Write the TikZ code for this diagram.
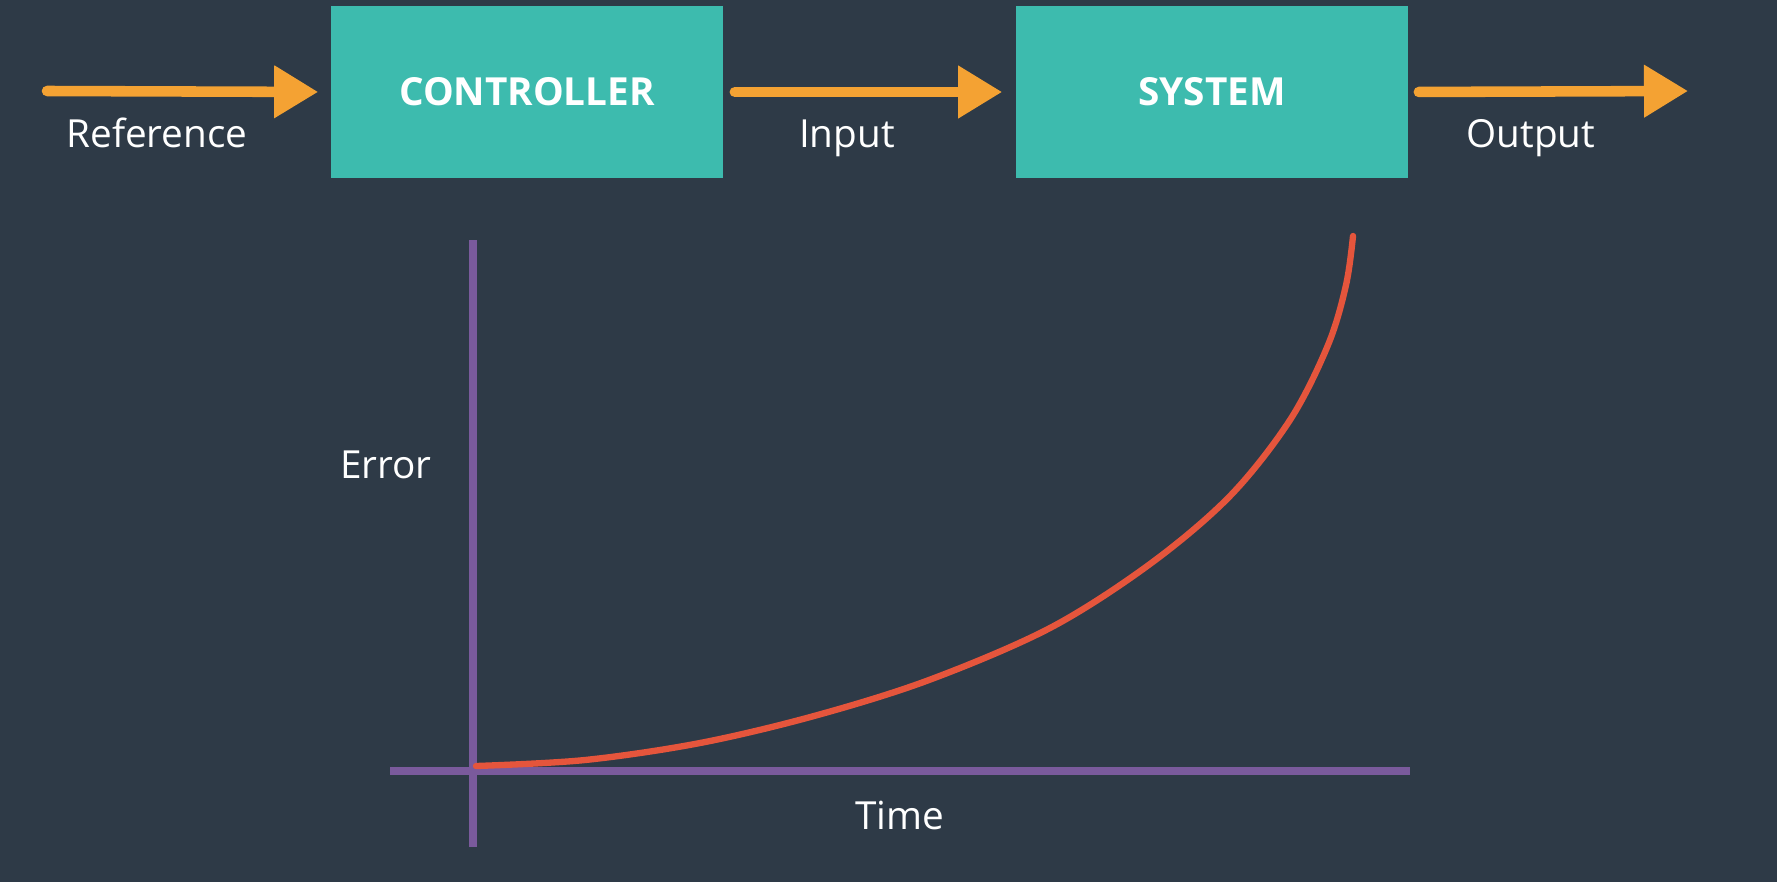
\documentclass[tikz,border=0pt]{standalone}
\usepackage{fontspec}
\setmainfont{Open Sans}
\usetikzlibrary{arrows.meta}
\definecolor{mybg}{HTML}{2E3A47}
\definecolor{myteal}{HTML}{3DBBAE}
\definecolor{myorange}{HTML}{F4A233}
\definecolor{mypurple}{HTML}{7A5A9C}
\definecolor{myred}{HTML}{E5553C}

\begin{document}
\begin{tikzpicture}[x=0.01cm,y=-0.01cm,
    block/.style={fill=myteal,minimum width=3.92cm,minimum height=1.72cm,inner sep=0pt,
      text=white,font=\bfseries\fontsize{11}{13}\selectfont},
    lbl/.style={text=white,anchor=base,inner sep=0pt,font=\fontsize{11}{13}\selectfont},
    flow/.style={myorange,line width=3pt,line cap=round,
      -{Triangle[length=0.44cm,width=0.5cm]}}]
        \coordinate (RefStart) at (47,91);
    \coordinate (OutEnd)   at (1688,91);
    \coordinate (Origin)   at (473,771);
    \coordinate (XAxisMin) at (390,771);
    \coordinate (XAxisMax) at (1410,771);
    \coordinate (YAxisMin) at (473,847);
    \coordinate (YAxisMax) at (473,240);

    \fill[mybg] (0,0) rectangle (1777,882);% background
    \useasboundingbox (0,0) rectangle (1777,882);

    \node[block] (ctrl) at (527,92) {CONTROLLER};
    \node[block] (sys) at (1212,92) {SYSTEM};

    \draw[flow,shorten >=0.12cm] (RefStart) -- (ctrl.west);% reference in
    \draw[flow,shorten <=0.11cm,shorten >=0.13cm] (ctrl.east) -- (sys.west);% input
    \draw[flow,shorten <=0.1cm] (sys.east) -- (OutEnd);% output

    \node[lbl] (reflbl) at (157,147) {Reference};
    \node[lbl] (inlbl) at (847,147) {Input};
    \node[lbl] (outlbl) at (1531,147) {Output};

    \draw[mypurple,line width=2pt] (YAxisMin) -- (YAxisMax);% Draw y axis
    \draw[mypurple,line width=2pt] (XAxisMin) -- (XAxisMax);% Draw x axis
    \node[lbl] (errlbl) at (386,478) {Error};
    \node[lbl] (timelbl) at (900,829) {Time};

    \draw[myred,line width=1.8pt,line cap=round] plot[smooth,tension=0.55] coordinates
      {(476,766) (585,760) (700,743) (814,716) (929,680) (1050,628) (1150,564)
       (1230,496) (1290,420) (1328,345) (1346,285) (1353,236)};% error curve
    \end{tikzpicture}
\end{document}
